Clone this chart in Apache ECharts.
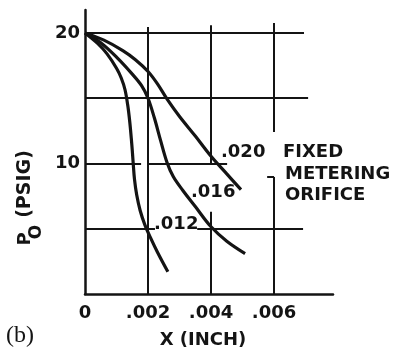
<!DOCTYPE html>
<html><head><meta charset="utf-8">
<script src="https://cdn.jsdelivr.net/npm/echarts@6/dist/echarts.min.js"></script>
<style>html,body{margin:0;padding:0;background:#fff}#c{width:400px;height:349px}</style>
</head><body><div id="c"></div>
<script>
// ---- data ----
const xTicks = [0, 0.002, 0.004, 0.006];
const xTickLabels = ['0', '.002', '.004', '.006'];
const yTicks = [10, 20];
const yTickLabels = ['10', '20'];
const yGridValues = [5, 10, 15, 20];
const xGridValues = [0.002, 0.004, 0.006];
const orificeNames = ['.012', '.016', '.020'];

const curve012 = [[0,20],[0.0004,19.2],[0.0007,18.4],[0.001,17.3],[0.00115,16.55],[0.00127,15.65],[0.00136,14.4],[0.00142,13.2],[0.00147,11.9],[0.0015,11.0],[0.00153,10.0],[0.00157,8.8],[0.00164,7.6],[0.00175,6.4],[0.0019,5.3],[0.0021,4.2],[0.0023,3.2],[0.00263,1.7]];
const curve016 = [[0,20],[0.0005,19.25],[0.001,18.15],[0.0015,16.85],[0.0018,15.95],[0.002,15.0],[0.0022,13.5],[0.0024,11.75],[0.0026,10.1],[0.0028,9.0],[0.0031,7.95],[0.0035,6.7],[0.004,5.15],[0.0045,4.05],[0.00508,3.1]];
const curve020 = [[0,20],[0.0006,19.45],[0.0012,18.65],[0.0016,17.95],[0.002,17.05],[0.0023,16.1],[0.0026,14.95],[0.003,13.6],[0.0035,12.1],[0.004,10.55],[0.0045,9.2],[0.00495,8.0]];

const titleX = 'X (INCH)';
const panelTag = '(b)';
const noteLines = ['FIXED', 'METERING', 'ORIFICE'];
const yName = ['P', 'O', '(PSIG)'];

// ---- grid-line extents (drawing layout, in data units) ----
const hExtents = {20: [[0, 0.00695]], 15: [[0, 0.00708]], 10: [[0, 0.00178], [0.00197, 0.00451]], 5: [[0, 0.00222], [0.00356, 0.00692]]};
const vExtents = {0.002: [[0, 20.46]], 0.004: [[0, 6.3], [9.9, 20.6]], 0.006: [[0, 8.97], [12.41, 20.77]]};

const INK = '#141414';
const FONT = 'DejaVu Sans';
const chart = echarts.init(document.getElementById('c'), null, {renderer: 'canvas'});

const gridLines = [];
yGridValues.forEach(y => hExtents[y].forEach(e => gridLines.push({coords: [[e[0], y], [e[1], y]]})));
xGridValues.forEach(x => vExtents[x].forEach(e => gridLines.push({coords: [[x, e[0]], [x, e[1]]]})));
gridLines.push({coords: [[0.00578, 8.97], [0.006, 8.97]]});

function fmt(ticks, labels) {
  return v => { for (let i = 0; i < ticks.length; i++) if (Math.abs(v - ticks[i]) < 1e-9) return labels[i]; return ''; };
}
const labelStyle = {color: INK, fontFamily: FONT, fontWeight: 'bold', fontSize: 18, hideOverlap: false};

function txt(text, x, y, extra) {
  return {type: 'text', x: x, y: y, style: Object.assign({text: text, fill: INK, font: 'bold 18px "DejaVu Sans"', align: 'left', verticalAlign: 'middle'}, extra || {})};
}
function vtxt(text, x, y, size) {
  return {type: 'text', x: x, y: y, rotation: Math.PI / 2, style: {text: text, fill: INK, font: 'bold ' + size + 'px "DejaVu Sans"', align: 'center', verticalAlign: 'middle'}};
}
const curveStyle = {type: 'line', smooth: 0.35, showSymbol: false, z: 3, lineStyle: {color: INK, width: 3.2}};

chart.setOption({
  animation: false,
  backgroundColor: '#fff',
  grid: {left: 85, top: 10, width: 248, height: 284, containLabel: false},
  xAxis: {
    type: 'value', min: 0, max: 0.00787, interval: 0.002,
    axisLine: {show: true, onZero: false, lineStyle: {color: INK, width: 2.5}},
    axisTick: {show: false}, splitLine: {show: false},
    axisLabel: Object.assign({margin: 10, formatter: fmt(xTicks, xTickLabels)}, labelStyle)
  },
  yAxis: {
    type: 'value', min: 0, max: 21.76, interval: 5,
    axisLine: {show: true, onZero: false, lineStyle: {color: INK, width: 2.5}},
    axisTick: {show: false}, splitLine: {show: false},
    axisLabel: Object.assign({margin: 5, formatter: fmt(yTicks, yTickLabels)}, labelStyle)
  },
  series: [
    {type: 'lines', coordinateSystem: 'cartesian2d', polyline: false, silent: true, z: 1,
     lineStyle: {color: INK, width: 2, opacity: 1}, data: gridLines},
    Object.assign({name: orificeNames[0], data: curve012}, curveStyle),
    Object.assign({name: orificeNames[1], data: curve016}, curveStyle),
    Object.assign({name: orificeNames[2], data: curve020}, curveStyle)
  ],
  graphic: [
    txt(orificeNames[2], 221, 152),
    txt(noteLines[0], 283, 152),
    txt(noteLines[1], 285, 174),
    txt(noteLines[2], 285, 195),
    txt(orificeNames[1], 191, 192),
    txt(orificeNames[0], 154, 224),
    txt(titleX, 203, 340, {align: 'center'}),
    txt(panelTag, 6, 336, {font: '24px "Liberation Serif"'}),
    vtxt(yName[2], 25, 184, 19),
    vtxt(yName[0], 25, 239, 18),
    vtxt(yName[1], 37, 232, 17)
  ]
});
</script></body></html>
